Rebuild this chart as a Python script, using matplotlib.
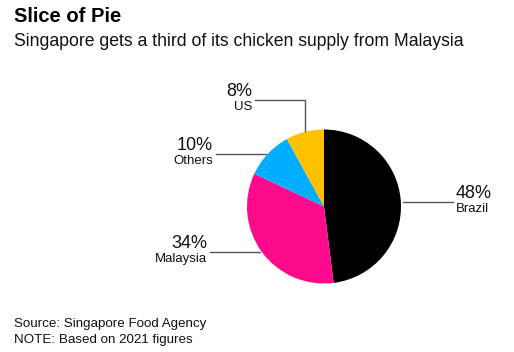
import numpy as np
import matplotlib.pyplot as plt

plt.rcParams['font.family'] = ['Liberation Sans', 'DejaVu Sans']

# data
countries = ['Brazil', 'Malaysia', 'Others', 'US']
shares = [48, 34, 10, 8]
colors = ['#000000', '#ff0a8c', '#00aeff', '#ffc000']

W, H = 514, 352
fig = plt.figure(figsize=(W / 100, H / 100), dpi=100)
ax = fig.add_axes([0, 0, 1, 1])

cx, cy, r = 324, H - 206.5, 77
wedges, _ = ax.pie(shares, colors=colors, startangle=90, counterclock=False,
                   center=(cx, cy), radius=r, frame=True,
                   wedgeprops=dict(linewidth=0))
ax.set_xlim(0, W)
ax.set_ylim(0, H)
ax.set_aspect('equal')
ax.axis('off')

line_col = '#555555'
# label x position (text anchor) per slice
label_x = {'Brazil': 456, 'Malaysia': 207, 'Others': 213, 'US': 252}

for w, name, s in zip(wedges, countries, shares):
    ang = np.deg2rad((w.theta1 + w.theta2) / 2)
    ex, ey = cx + r * np.cos(ang), cy + r * np.sin(ang)
    tx = label_x[name]
    if name == 'US':
        ly = H - 100
        ax.plot([ex, ex, tx + 3], [ey + 1, ly, ly], color=line_col, lw=1)
    else:
        ly = ey
        x0 = tx - 3 if tx > cx else tx + 3
        ax.plot([ex + (2 if tx > cx else -2), x0], [ly, ly], color=line_col, lw=1)
    ha = 'left' if tx > cx else 'right'
    ax.text(tx, ly + 3.5, f'{s}%', ha=ha, va='baseline', fontsize=13, color='#111111')
    ax.text(tx, ly - 1.5, name, ha=ha, va='top', fontsize=9.5, color='#111111')

fig.text(14 / W, 1 - 17 / H, 'Slice of Pie', fontsize=14.5, fontweight='bold',
         va='center', ha='left', color='#000000')
fig.text(14 / W, 1 - 42 / H, 'Singapore gets a third of its chicken supply from Malaysia',
         fontsize=12.7, va='center', ha='left', color='#111111')
fig.text(14 / W, 1 - 324 / H, 'Source: Singapore Food Agency',
         fontsize=9.6, va='center', ha='left', color='#111111')
fig.text(14 / W, 1 - 339.5 / H, 'NOTE: Based on 2021 figures',
         fontsize=9.6, va='center', ha='left', color='#111111')

fig.savefig('out.png', dpi=100, facecolor='white')
